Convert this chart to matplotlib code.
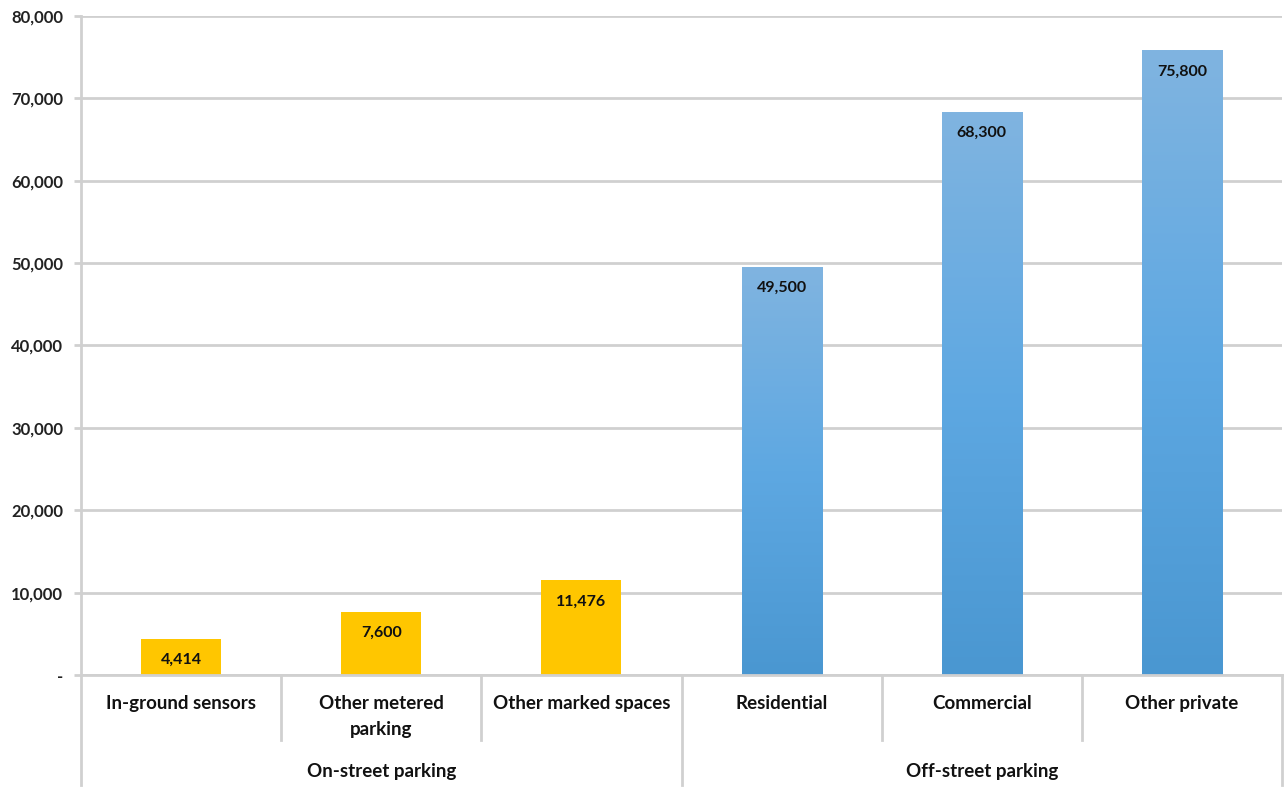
import matplotlib.pyplot as plt
import numpy as np
from matplotlib.colors import LinearSegmentedColormap

categories = ['In-ground sensors', 'Other metered\nparking', 'Other marked spaces',
              'Residential', 'Commercial', 'Other private']
values = [4414, 7600, 11476, 49500, 68300, 75800]
groups = ['On-street parking', 'Off-street parking']
group_size = [3, 3]
yticks = [0, 10000, 20000, 30000, 40000, 50000, 60000, 70000, 80000]

plt.rcParams['font.family'] = ['Lato', 'DejaVu Sans']

fig = plt.figure(figsize=(12.86, 7.87), dpi=100)
ax = fig.add_axes([0.063, 0.1423, 0.9339, 0.8374])

x = np.arange(len(categories))
w = 0.4
grid_c = '#d0d0d0'

ax.set_yticks(yticks)
ax.set_yticklabels(['-' if v == 0 else f'{v:,}' for v in yticks],
                   fontsize=12, fontweight='bold', color='#222222')
ax.yaxis.grid(True, color=grid_c, linewidth=2)
ax.set_axisbelow(True)
ax.tick_params(axis='y', length=5, width=2, color=grid_c, pad=8)
ax.set_xticks([])
for s in ['top', 'right']:
    ax.spines[s].set_visible(False)
for s in ['left', 'bottom']:
    ax.spines[s].set_color(grid_c)
    ax.spines[s].set_linewidth(2)

# gradient for blue bars
grad = np.linspace(0, 1, 256).reshape(-1, 1)
blue = LinearSegmentedColormap.from_list('b', ['#4a97d1', '#5ea8e2', '#80b4e0'])

for i, v in enumerate(values):
    if i < group_size[0]:
        ax.bar(x[i], v, width=w, color='#ffc600', zorder=2)
    else:
        ax.imshow(grad, cmap=blue, origin='lower', aspect='auto',
                  extent=[x[i] - w / 2, x[i] + w / 2, 0, v], zorder=2)
    ax.annotate(f'{v:,}', (x[i], v), xytext=(0, -15), textcoords='offset points',
                ha='center', va='center', fontsize=11.5, fontweight='bold', color='#111111')

ax.set_xlim(-0.5, len(categories) - 0.5)
ax.set_ylim(0, 80000)

tr = ax.get_xaxis_transform()
for i, c in enumerate(categories):
    ax.text(x[i], -0.031, c, transform=tr, ha='center', va='top',
            fontsize=13.5, fontweight='bold', color='#111111', linespacing=1.6)

# separators
start = 0
bounds = [-0.5]
for g in group_size:
    start += g
    bounds.append(start - 0.5)
for b in np.arange(-0.5, len(categories), 1.0):
    low = -0.167 if b in bounds else -0.099
    ax.plot([b, b], [0, low], transform=tr, color=grid_c, linewidth=2, clip_on=False)

start = 0
for g, n in zip(groups, group_size):
    ax.text(start + (n - 1) / 2, -0.146, g, transform=tr, ha='center', va='center',
            fontsize=13.5, fontweight='bold', color='#111111')
    start += n

fig.savefig('out.png', dpi=100)
